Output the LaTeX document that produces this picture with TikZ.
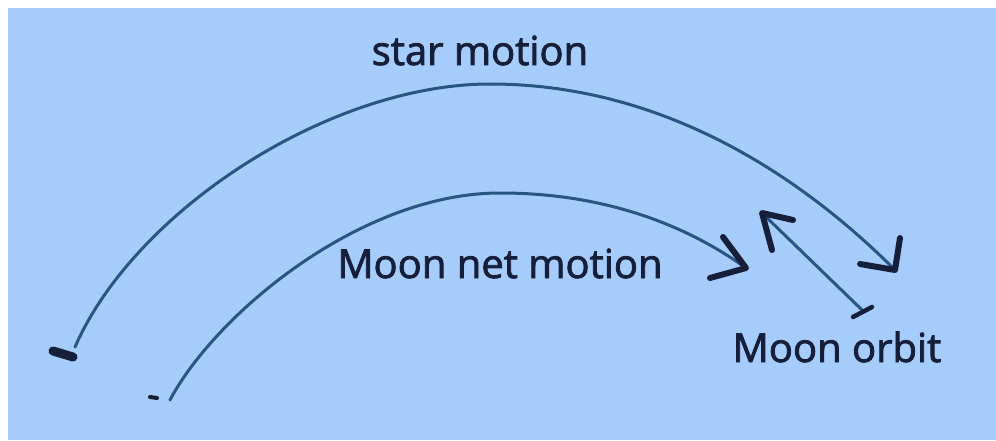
\documentclass[tikz,border=0pt]{standalone}
\usepackage{fontspec}
\setmainfont{Open Sans}
\newfontfamily\lblfont{Open Sans}[FakeBold=2]
\definecolor{bgblue}{RGB}{166,204,251}
\definecolor{arcblue}{RGB}{40,85,130}
\definecolor{inkdark}{RGB}{22,30,58}
\begin{document}
\begin{tikzpicture}[x=1pt,y=1pt,
  arcline/.style={draw=arcblue, line width=3pt, line cap=round, line join=round},
  headstroke/.style={draw=inkdark, line width=6pt, line cap=round, line join=round},
  lbl/.style={text=inkdark, font=\lblfont\fontsize{40}{48}\selectfont, inner sep=0pt, anchor=base}]
\useasboundingbox (0,0) rectangle (996,440);
\fill[white] (0,0) rectangle (996,440);
\fill[bgblue] (8,0) rectangle (996,432);

% labels
\node[lbl] (starlbl) at (480,375) {star motion};
\node[lbl] (moonlbl) at (500,162) {Moon net motion};
\node[lbl] (orbitlbl) at (837,78) {Moon orbit};

% star motion arc
\coordinate (s0) at (75,93);
\coordinate (s3) at (490,356);
\coordinate (s6) at (895,170);
\draw[arcline] (s0) .. controls (135,230) and (330,356) .. (s3)
                    .. controls (680,356) and (820,245) .. (s6);
\draw[headstroke] (900,202) -- (s6) -- (860,176);
\coordinate (sb) at (53,89);
\draw[draw=inkdark, line width=9pt, line cap=round] (sb) -- (73,83);

% moon net motion arc
\coordinate (m0) at (170,40);
\coordinate (m3) at (500,247);
\coordinate (m6) at (746,172);
\draw[arcline] (m0) .. controls (215,125) and (360,247) .. (m3)
                    .. controls (620,247) and (700,205) .. (m6);
\draw[headstroke] (723,203) -- (m6) -- (710,162);
\draw[draw=inkdark, line width=4pt, line cap=round] (150,43) -- (157,42);

% moon orbit
\coordinate (o0) at (862,130);
\coordinate (o1) at (762,227);
\draw[arcline] (o0) -- (o1);
\draw[headstroke] (772,190) -- (o1) -- (793,220);
\draw[headstroke, line width=4.5pt] (853,123) -- (872,133);
\end{tikzpicture}
\end{document}
